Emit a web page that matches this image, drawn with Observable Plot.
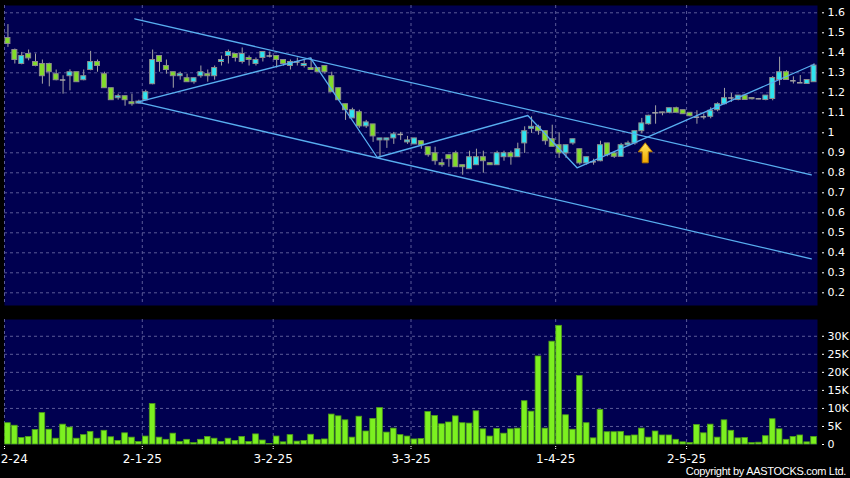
<!DOCTYPE html>
<html>
<head>
<meta charset="utf-8">
<script src="https://cdn.jsdelivr.net/npm/d3@7"></script>
<script src="https://cdn.jsdelivr.net/npm/@observablehq/plot@0.6"></script>
<style>
html, body { margin: 0; padding: 0; background: #000; }
#wrap { position: relative; width: 850px; height: 478px; background: #000; overflow: hidden; }
#wrap svg { display: block; }
#copy { position: absolute; right: 4px; top: 465px; color: #fff; font: 11px "Liberation Sans", sans-serif; line-height: 12px; letter-spacing: -0.3px; white-space: nowrap; }
</style>
</head>
<body>
<div id="wrap"><div id="price"></div><div id="vol"></div><div id="copy">Copyright by AASTOCKS.com Ltd.</div></div>
<script>
// ---- Data ----
const opens = [1.474,1.414,1.344,1.394,1.354,1.344,1.344,1.293,1.264,1.283,1.303,1.263,1.314,1.354,1.293,1.223,1.173,1.183,1.153,1.146,
1.163,1.243,1.384,1.334,1.303,1.283,1.273,1.253,1.283,1.293,1.283,1.354,1.384,1.394,1.354,1.374,1.344,1.374,1.384,
1.384,1.364,1.334,1.354,1.334,1.324,1.324,1.334,1.283,1.223,1.143,1.072,1.103,1.032,1.042,0.962,0.962,0.972,0.992,0.952,0.942,
0.958,0.928,0.898,0.848,0.888,0.898,0.838,0.818,0.838,0.878,0.848,0.838,0.878,0.898,0.878,0.947,1.020,1.030,1.008,0.968,
0.938,0.897,0.947,0.918,0.847,0.855,0.858,0.947,0.897,0.880,0.938,0.947,1.008,1.043,1.100,1.098,1.100,1.123,1.113,
1.100,1.078,1.080,1.080,1.113,1.143,1.174,1.164,1.186,1.174,1.170,1.164,1.169,1.264,1.303,1.260,1.250,1.244,1.253];
const highs = [1.541,1.419,1.402,1.414,1.394,1.364,1.348,1.314,1.285,1.315,1.303,1.314,1.407,1.364,1.303,1.223,1.193,1.183,1.193,1.163,
1.213,1.414,1.384,1.364,1.303,1.303,1.293,1.273,1.334,1.314,1.334,1.384,1.414,1.394,1.424,1.384,1.374,1.404,1.404,
1.384,1.364,1.364,1.374,1.364,1.374,1.324,1.334,1.303,1.223,1.143,1.123,1.113,1.062,1.042,0.972,0.972,1.002,1.002,0.982,0.972,
0.958,0.928,0.928,0.868,0.888,0.908,0.838,0.908,0.918,0.908,0.848,0.908,0.908,0.908,0.948,1.030,1.080,1.038,1.008,1.038,
1.000,0.938,0.968,0.918,0.878,0.868,0.958,0.947,0.905,0.947,0.958,1.008,1.072,1.088,1.135,1.103,1.123,1.128,1.113,
1.100,1.110,1.095,1.125,1.150,1.222,1.197,1.186,1.186,1.174,1.172,1.186,1.281,1.378,1.310,1.280,1.286,1.264,1.345];
const lows = [1.427,1.344,1.340,1.360,1.330,1.243,1.230,1.260,1.193,1.210,1.253,1.260,1.310,1.303,1.223,1.163,1.163,1.133,1.133,1.143,
1.160,1.240,1.303,1.293,1.223,1.263,1.253,1.243,1.273,1.253,1.263,1.334,1.344,1.354,1.344,1.334,1.334,1.354,1.374,
1.324,1.334,1.314,1.334,1.324,1.314,1.303,1.293,1.203,1.163,1.062,1.072,1.022,1.022,0.952,0.875,0.922,0.942,0.962,0.942,0.942,
0.918,0.878,0.838,0.828,0.828,0.828,0.788,0.818,0.838,0.798,0.838,0.838,0.858,0.838,0.878,0.897,0.997,0.988,0.938,0.930,
0.872,0.872,0.938,0.838,0.838,0.838,0.855,0.880,0.872,0.880,0.930,0.938,0.995,1.038,1.043,1.085,1.095,1.100,1.093,
1.080,1.043,1.065,1.070,1.105,1.140,1.152,1.160,1.164,1.164,1.165,1.160,1.160,1.236,1.264,1.244,1.250,1.244,1.253];
const closes = [1.444,1.364,1.384,1.372,1.334,1.283,1.303,1.263,1.264,1.303,1.253,1.283,1.354,1.334,1.223,1.163,1.183,1.163,1.143,1.156,
1.203,1.364,1.354,1.314,1.283,1.293,1.253,1.273,1.303,1.283,1.324,1.364,1.404,1.374,1.394,1.364,1.364,1.404,1.384,
1.364,1.344,1.354,1.354,1.344,1.314,1.303,1.303,1.203,1.163,1.113,1.113,1.032,1.052,0.982,0.972,0.972,0.992,0.992,0.962,0.972,
0.938,0.888,0.858,0.838,0.868,0.828,0.828,0.878,0.878,0.858,0.838,0.898,0.898,0.878,0.918,1.008,1.030,1.008,0.958,0.930,
0.897,0.938,0.968,0.847,0.878,0.855,0.938,0.888,0.880,0.938,0.947,1.008,1.047,1.085,1.100,1.102,1.123,1.100,1.093,
1.083,1.078,1.080,1.110,1.143,1.173,1.174,1.186,1.164,1.168,1.170,1.186,1.274,1.303,1.264,1.260,1.250,1.264,1.336];
// volume in thousands of shares
const volumes = [5.9,5.2,1.8,2.1,4.0,8.7,4.1,1.6,5.5,4.7,1.6,2.6,3.5,1.6,3.8,2.0,1.0,3.1,1.9,0.7,
2.2,11.2,1.9,1.3,3.0,0.7,1.3,0.4,1.3,2.1,1.6,0.7,1.6,1.0,2.1,0.7,2.8,1.1,0.15,
2.2,0.6,2.6,0.8,1.0,2.7,1.2,1.4,8.3,7.8,6.7,1.9,7.7,3.6,7.1,10.1,3.3,4.4,2.6,2.2,1.4,
1.5,9.0,7.9,5.6,6.1,7.8,5.9,5.8,9.2,4.2,2.2,4.3,3.0,4.2,4.4,12.0,9.1,24.4,4.4,28.5,32.9,
8.1,4.1,19.0,5.9,1.7,9.6,3.4,3.4,3.5,2.3,2.5,4.4,1.9,3.6,2.5,2.5,1.3,0.6,
0.4,5.4,3.1,5.5,1.9,6.7,3.8,1.7,1.8,0.4,0.5,2.3,7.0,4.2,1.3,2.1,2.5,0.6,2.1];

// date axis: index of first session of each labelled day, and its label
const dateTickIdx = [0, 20, 39, 59, 80, 99];
const dateLabels = ["2-12-24", "2-1-25", "3-2-25", "3-3-25", "1-4-25", "2-5-25"];
const priceTicks = [0.2,0.3,0.4,0.5,0.6,0.7,0.8,0.9,1.0,1.1,1.2,1.3,1.4,1.5,1.6];
const priceTickLabels = ["0.2","0.3","0.4","0.5","0.6","0.7","0.8","0.9","1","1.1","1.2","1.3","1.4","1.5","1.6"];
const volTicks = [0,5,10,15,20,25,30];
const volTickLabels = ["0","5K","10K","15K","20K","25K","30K"];

// drawn trend annotations (session index, price)
const channelUpperIdx = [18.4, 116.6];
const channelUpperPx = [1.570, 0.790];
const channelLowerIdx = [18.8, 116.6];
const channelLowerPx = [1.153, 0.370];
const zigzagIdx = [18.8, 43.9, 53.6, 75.45, 82.6, 116.96];
const zigzagPx = [1.153, 1.375, 0.8765, 1.0865, 0.825, 1.3415];
const arrowIdx = [92.5];
const arrowPx = [0.950];

// ---- Build tables ----
const candles = opens.map((o, i) => ({
  i, open: o, high: highs[i], low: lows[i], close: closes[i], volume: volumes[i],
  dir: closes[i] > o ? "up" : closes[i] < o ? "down" : "flat"
}));
const bodies = candles.filter(d => d.dir !== "flat");
const flats = candles.filter(d => d.dir === "flat");
const toPts = (xs, ys) => xs.map((x, k) => ({x, y: ys[k]}));
const upper = toPts(channelUpperIdx, channelUpperPx);
const lower = toPts(channelLowerIdx, channelLowerPx);
const zigzag = toPts(zigzagIdx, zigzagPx);
const arrow = toPts(arrowIdx, arrowPx);
const dateTickPos = dateTickIdx.map(i => i - 0.5);

// ---- Styles ----
const NAVY = "#000050";
const GRID = "#5a5a98";
const CYAN = "#2ee4f0";
const GREEN = "#82dc2a";
const WICK = "#a4a4a4";
const LINE = "#58aef0";
const xDomain = [-0.5, candles.length - 0.5];

const arrowSymbol = {
  draw(ctx) {
    ctx.moveTo(0, 0); ctx.lineTo(7, 9); ctx.lineTo(3, 9); ctx.lineTo(3, 20);
    ctx.lineTo(-3, 20); ctx.lineTo(-3, 9); ctx.lineTo(-7, 9); ctx.closePath();
  }
};

const priceChart = Plot.plot({
  width: 850, height: 312,
  marginLeft: 4, marginRight: 33, marginTop: 5, marginBottom: 7,
  style: {background: "#000", color: "#fff", fontFamily: "DejaVu Sans", fontSize: "11px", overflow: "visible"},
  x: {domain: xDomain, axis: null},
  y: {domain: [0.1365, 1.6365], axis: null},
  color: {domain: ["up", "down", "flat"], range: [CYAN, GREEN, WICK]},
  marks: [
    Plot.frame({fill: NAVY, stroke: null}),
    Plot.gridY(priceTicks, {stroke: GRID, strokeOpacity: 1, strokeDasharray: "3,3"}),
    Plot.gridX(dateTickPos, {stroke: GRID, strokeOpacity: 1, strokeDasharray: "3,3"}),
    Plot.axisY(priceTicks, {anchor: "right", label: null, tickSize: 2, dx: 4, tickPadding: 4, fontSize: 11,
      tickFormat: d => priceTickLabels[priceTicks.indexOf(d)]}),
    Plot.ruleX(candles, {x: "i", y1: "low", y2: "high", stroke: WICK, strokeWidth: 1}),
    Plot.rect(bodies, {x1: d => d.i - 0.36, x2: d => d.i + 0.36, y1: "open", y2: "close",
      fill: "dir", stroke: "#8c8c8c", strokeWidth: 1}),
    Plot.ruleY(flats, {y: "open", x1: d => d.i - 0.4, x2: d => d.i + 0.4, stroke: WICK, strokeWidth: 1.5}),
    Plot.line(upper, {x: "x", y: "y", stroke: LINE, strokeWidth: 1.3}),
    Plot.line(lower, {x: "x", y: "y", stroke: LINE, strokeWidth: 1.3}),
    Plot.line(zigzag, {x: "x", y: "y", stroke: LINE, strokeWidth: 1.3}),
    Plot.dot(arrow, {x: "x", y: "y", symbol: arrowSymbol, r: 10, fill: "url(#goldArrow)", stroke: "#b87800", strokeWidth: 1})
  ]
});

// gradient for the arrow
const defs = d3.select(priceChart).insert("defs", ":first-child");
const grad = defs.append("linearGradient").attr("id", "goldArrow").attr("x1", 0).attr("y1", 0).attr("x2", 0).attr("y2", 1);
grad.append("stop").attr("offset", "0%").attr("stop-color", "#ffe45a");
grad.append("stop").attr("offset", "100%").attr("stop-color", "#f0a800");

const volChart = Plot.plot({
  width: 850, height: 166,
  marginLeft: 4, marginRight: 33, marginTop: 7, marginBottom: 34,
  style: {background: "#000", color: "#fff", fontFamily: "DejaVu Sans", fontSize: "11px", overflow: "visible"},
  x: {domain: xDomain, axis: null},
  y: {domain: [0, 34.65], axis: null},
  marks: [
    Plot.frame({fill: NAVY, stroke: null}),
    Plot.gridY(volTicks.filter(v => v > 0), {stroke: GRID, strokeOpacity: 1, strokeDasharray: "3,3"}),
    Plot.gridX(dateTickPos, {stroke: GRID, strokeOpacity: 1, strokeDasharray: "3,3"}),
    Plot.rectY(candles, {x1: d => d.i - 0.41, x2: d => d.i + 0.41, y: "volume", fill: "#7cf020", stroke: "#4e9e18", strokeWidth: 0.8}),
    Plot.axisY(volTicks, {anchor: "right", label: null, tickSize: 2, dx: 4, tickPadding: 4, fontSize: 11,
      tickFormat: d => volTickLabels[volTicks.indexOf(d)]}),
    Plot.axisX(dateTickPos, {anchor: "bottom", label: null, tickSize: 4, dy: 2, tickPadding: 4, fontSize: 12,
      strokeDasharray: "1,1", tickFormat: d => dateLabels[dateTickPos.indexOf(d)]})
  ]
});

document.getElementById("price").appendChild(priceChart);
document.getElementById("vol").appendChild(volChart);
</script>
</body>
</html>
